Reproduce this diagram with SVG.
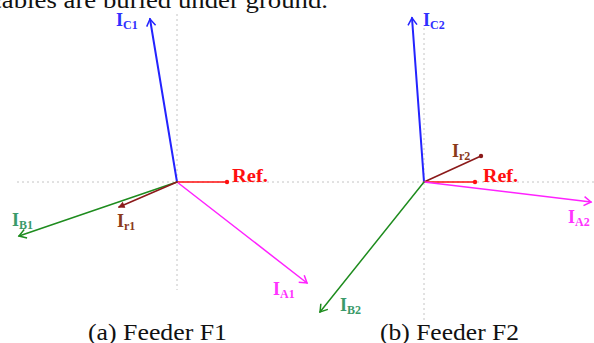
<svg xmlns="http://www.w3.org/2000/svg" width="594" height="343" viewBox="0 0 594 343">
<style>
.cap{font-size:24px;fill:#111}
.lab{font-weight:bold;font-size:18px}
.sub{font-size:12px}
.axis{stroke:#c4c4c4;stroke-width:1;stroke-dasharray:2 3;fill:none}
.vec{fill:none;stroke-linecap:round}
</style>
<defs>
<marker id="arrB" markerUnits="userSpaceOnUse" viewBox="-10 -6 12 12" refX="0" refY="0" markerWidth="12" markerHeight="12" orient="auto">
<path d="M-7,-4.5 L0,0 L-7,4.5" fill="none" stroke="#2424ff" stroke-width="1.5"/>
</marker>
<marker id="arrG" markerUnits="userSpaceOnUse" viewBox="-10 -6 12 12" refX="0" refY="0" markerWidth="12" markerHeight="12" orient="auto">
<path d="M-7,-4.5 L0,0 L-7,4.5" fill="none" stroke="#1e8c1e" stroke-width="1.5"/>
</marker>
<marker id="arrM" markerUnits="userSpaceOnUse" viewBox="-10 -6 12 12" refX="0" refY="0" markerWidth="12" markerHeight="12" orient="auto">
<path d="M-7,-4.5 L0,0 L-7,4.5" fill="none" stroke="#ff22ff" stroke-width="1.5"/>
</marker>
<marker id="arrR" markerUnits="userSpaceOnUse" viewBox="-6 -4 8 8" refX="0" refY="0" markerWidth="8" markerHeight="8" orient="auto">
<path d="M-5,-2.5 L0,0 L-5,2.5 Z" fill="#8b1a1a" stroke="#8b1a1a" stroke-width="1"/>
</marker>
<marker id="dotRed" markerUnits="userSpaceOnUse" viewBox="-3 -3 6 6" markerWidth="6" markerHeight="6" refX="0" refY="0">
<circle r="2.2" fill="#ff1010"/>
</marker>
<marker id="dotBrown" markerUnits="userSpaceOnUse" viewBox="-3 -3 6 6" markerWidth="6" markerHeight="6" refX="0" refY="0">
<circle r="2.2" fill="#8b1a1a"/>
</marker>
</defs>

<g font-family="Liberation Serif, Times New Roman, serif">
<text class="cap" x="-10" y="8" textLength="338" lengthAdjust="spacingAndGlyphs">cables are buried under ground.</text>

<g id="axes">
<line class="axis" x1="17" y1="182" x2="594" y2="182"/>
<line class="axis" x1="177" y1="14" x2="177" y2="290"/>
<line class="axis" x1="424" y1="28" x2="424" y2="322"/>
</g>

<g id="connectors">
<line class="vec" x1="177" y1="182" x2="150" y2="19" stroke="#2424ff" stroke-width="2" marker-end="url(#arrB)"/>
<line class="vec" x1="177" y1="182" x2="227" y2="182" stroke="#ff1010" stroke-width="1.6" marker-end="url(#dotRed)"/>
<line class="vec" x1="177" y1="182" x2="307" y2="283" stroke="#ff22ff" stroke-width="1.5" marker-end="url(#arrM)"/>
<line class="vec" x1="177" y1="182" x2="19" y2="236" stroke="#1e8c1e" stroke-width="1.5" marker-end="url(#arrG)"/>
<line class="vec" x1="177" y1="182" x2="119" y2="207" stroke="#8b1a1a" stroke-width="1.6" marker-end="url(#arrR)"/>

<line class="vec" x1="424" y1="182" x2="412" y2="18" stroke="#2424ff" stroke-width="2" marker-end="url(#arrB)"/>
<line class="vec" x1="424" y1="182" x2="481" y2="156" stroke="#8b1a1a" stroke-width="1.6" marker-end="url(#dotBrown)"/>
<line class="vec" x1="424" y1="182" x2="475" y2="182" stroke="#ff1010" stroke-width="1.6" marker-end="url(#dotRed)"/>
<line class="vec" x1="424" y1="182" x2="591" y2="202" stroke="#ff22ff" stroke-width="1.5" marker-end="url(#arrM)"/>
<line class="vec" x1="424" y1="182" x2="320" y2="312" stroke="#1e8c1e" stroke-width="1.5" marker-end="url(#arrG)"/>
</g>

<g id="IC1"><text class="lab" x="116" y="26" fill="#3030ff">I<tspan class="sub" dy="3">C1</tspan></text></g>
<g id="Ref1"><text class="lab" x="232" y="182" fill="#ff1010" textLength="36" lengthAdjust="spacingAndGlyphs">Ref.</text></g>
<g id="IA1"><text class="lab" x="273" y="295" fill="#ff33ff">I<tspan class="sub" dy="3">A1</tspan></text></g>
<g id="IB1"><text class="lab" x="12" y="226" fill="#3a9a6a">I<tspan class="sub" dy="3">B1</tspan></text></g>
<g id="Ir1"><text class="lab" x="117" y="227" fill="#8b3a1a">I<tspan class="sub" dy="3">r1</tspan></text></g>

<g id="IC2"><text class="lab" x="423" y="26" fill="#3030ff">I<tspan class="sub" dy="3">C2</tspan></text></g>
<g id="Ir2"><text class="lab" x="452" y="157" fill="#8b3a1a">I<tspan class="sub" dy="3">r2</tspan></text></g>
<g id="Ref2"><text class="lab" x="483" y="182" fill="#ff1010" textLength="35" lengthAdjust="spacingAndGlyphs">Ref.</text></g>
<g id="IA2"><text class="lab" x="568" y="223" fill="#ff33ff">I<tspan class="sub" dy="3">A2</tspan></text></g>
<g id="IB2"><text class="lab" x="340" y="311" fill="#3a9a6a">I<tspan class="sub" dy="3">B2</tspan></text></g>

<g id="captions">
<text class="cap" x="88" y="340" textLength="139" lengthAdjust="spacingAndGlyphs">(a) Feeder F1</text>
<text class="cap" x="380" y="340" textLength="139" lengthAdjust="spacingAndGlyphs">(b) Feeder F2</text>
</g>
</g>
</svg>
